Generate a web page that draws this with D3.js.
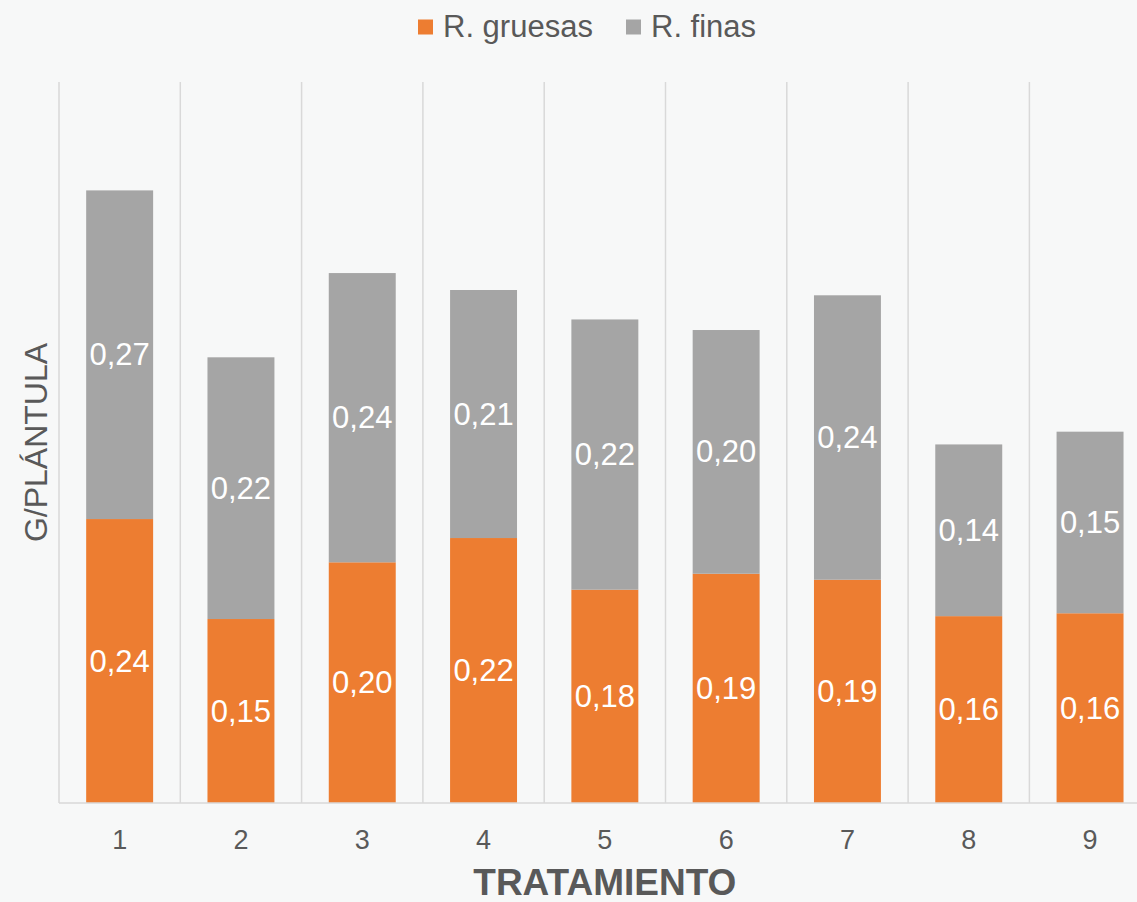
<!DOCTYPE html>
<html>
<head>
<meta charset="utf-8">
<script src="https://cdn.jsdelivr.net/npm/d3@7"></script>
<style>
  html, body { margin: 0; padding: 0; background: #f7f8f8; }
  svg { display: block; font-family: "Liberation Sans", Arial, sans-serif; }
</style>
</head>
<body>
<svg id="chart" width="1137" height="902"></svg>
<script>
const categories = ["1", "2", "3", "4", "5", "6", "7", "8", "9"];
const gruesas = [0.2363, 0.1531, 0.2003, 0.2205, 0.1775, 0.1908, 0.1858, 0.1555, 0.1579];
const finas   = [0.2735, 0.2178, 0.2407, 0.2064, 0.2249, 0.2028, 0.2367, 0.1429, 0.1511];
const seriesNames = ["R. gruesas", "R. finas"];
const seriesColors = ["#ED7D31", "#A5A5A5"];
const yMax = 0.6;

const svg = d3.select("#chart");
const W = 1137, H = 902;
const plot = { left: 59, right: 1150.7, top: 82, bottom: 803 };

svg.append("rect").attr("width", W).attr("height", H).attr("fill", "#f7f8f8");

const x = d3.scaleBand().domain(categories).range([plot.left, plot.right])
  .paddingInner(0.448).paddingOuter(0.224);
const y = d3.scaleLinear().domain([0, yMax]).range([plot.bottom, plot.top]);

// vertical gridlines at category boundaries
const step = x.step();
const bounds = d3.range(categories.length + 1).map(i => plot.left + i * step);
svg.append("g").selectAll("line").data(bounds).join("line")
  .attr("x1", d => d).attr("x2", d => d)
  .attr("y1", plot.top).attr("y2", plot.bottom)
  .attr("stroke", "#d9d9d9").attr("stroke-width", 1.5);

// stacked data
const rows = categories.map((c, i) => ({ cat: c, gruesas: gruesas[i], finas: finas[i] }));
const stack = d3.stack().keys(["gruesas", "finas"])(rows);

const fmt = v => v.toFixed(2).replace(".", ",");

stack.forEach((layer, li) => {
  const g = svg.append("g");
  g.selectAll("rect").data(layer).join("rect")
    .attr("x", d => x(d.data.cat))
    .attr("width", x.bandwidth())
    .attr("y", d => y(d[1]))
    .attr("height", d => y(d[0]) - y(d[1]))
    .attr("fill", seriesColors[li]);
  g.selectAll("text").data(layer).join("text")
    .attr("x", d => x(d.data.cat) + x.bandwidth() / 2)
    .attr("y", d => (y(d[0]) + y(d[1])) / 2)
    .attr("text-anchor", "middle")
    .attr("dominant-baseline", "central")
    .attr("fill", "#ffffff")
    .attr("font-size", 31)
    .text(d => fmt(d[1] - d[0]));
});

// x axis line
svg.append("line")
  .attr("x1", plot.left).attr("x2", plot.right)
  .attr("y1", plot.bottom).attr("y2", plot.bottom)
  .attr("stroke", "#d9d9d9").attr("stroke-width", 1.5);

// x tick labels
const xAxis = svg.append("g").attr("transform", `translate(0,${plot.bottom})`)
  .call(d3.axisBottom(x).tickSize(0).tickPadding(0));
xAxis.select(".domain").remove();
xAxis.selectAll("text")
  .attr("y", 46)
  .attr("dy", 0)
  .attr("font-size", 27)
  .attr("font-family", "'Liberation Sans', Arial, sans-serif")
  .attr("fill", "#595959");

// axis titles
svg.append("text")
  .attr("x", (plot.left + plot.right) / 2)
  .attr("y", 895)
  .attr("text-anchor", "middle")
  .attr("font-size", 37)
  .attr("font-weight", "bold")
  .attr("fill", "#595959")
  .text("TRATAMIENTO");

svg.append("text")
  .attr("transform", `translate(47,${(plot.top + plot.bottom) / 2}) rotate(-90)`)
  .attr("text-anchor", "middle")
  .attr("font-size", 32)
  .attr("fill", "#595959")
  .text("G/PLÁNTULA");

// legend
const legendItems = [
  { name: seriesNames[0], color: seriesColors[0], sx: 418, tx: 443 },
  { name: seriesNames[1], color: seriesColors[1], sx: 626, tx: 651 }
];
const lg = svg.append("g");
legendItems.forEach(it => {
  lg.append("rect").attr("x", it.sx).attr("y", 19.5).attr("width", 15).attr("height", 15).attr("fill", it.color);
  lg.append("text").attr("x", it.tx).attr("y", 37).attr("font-size", 31)
    .attr("fill", "#595959").text(it.name);
});
</script>
</body>
</html>
